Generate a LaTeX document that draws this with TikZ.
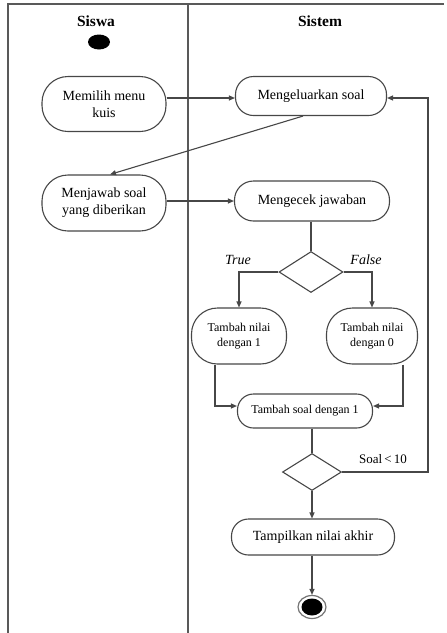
\documentclass[tikz,border=0pt]{standalone}
\usepackage{fontspec}
\setmainfont{Liberation Serif}
\usetikzlibrary{shapes.geometric,arrows.meta}
\definecolor{lncol}{gray}{0.28}
\begin{document}
\begin{tikzpicture}[x=1pt,y=-1pt,
  ln/.style={draw=lncol, line width=1.1pt},
  arr/.style={ln, -{Triangle[length=6pt,width=5pt]}},
  act/.style={draw=lncol, line width=1.1pt, align=center, inner sep=0pt, font=\fontsize{14}{17}\selectfont},
  sact/.style={act, font=\fontsize{12}{15}\selectfont},
  dec/.style={diamond, draw=lncol, line width=1.1pt, inner sep=0pt, aspect=1.5},
  lane/.style={draw=black!65, line width=1.2pt},
  title/.style={font=\fontsize{15.5}{18}\selectfont\bfseries},
  lbl/.style={font=\fontsize{14}{17}\selectfont\itshape}]
\useasboundingbox (0,0) rectangle (447,633);
% frame
\draw[lane] (8,633) -- (8,4) -- (444,4);
\draw[lane] (188,4) -- (188,633);
\node[title] (tsiswa) at (96,21) {Siswa};
\node[title] (tsistem) at (320,21) {Sistem};
% start
\node[ellipse, fill=black, minimum width=22pt, minimum height=15pt, inner sep=0pt] (start) at (99,42) {};
% activities
\node[act, minimum width=124pt, minimum height=55pt, rounded corners=26pt] (memilih) at (104,104) {Memilih menu\\kuis};
\node[act, minimum width=151pt, minimum height=39pt, rounded corners=18pt] (keluar) at (311,96) {Mengeluarkan soal};
\node[act, minimum width=124pt, minimum height=56pt, rounded corners=26pt] (jawab) at (104,203) {Menjawab soal\\yang diberikan};
\node[act, minimum width=155pt, minimum height=40pt, rounded corners=19pt] (cek) at (312,201) {Mengecek jawaban};
\node[dec, minimum width=64pt, minimum height=41pt] (d1) at (311,272) {};
\node[sact, minimum width=95pt, minimum height=56pt, rounded corners=26pt] (t1) at (239,336) {Tambah nilai\\dengan 1};
\node[sact, minimum width=91pt, minimum height=56pt, rounded corners=26pt] (t0) at (372,336) {Tambah nilai\\dengan 0};
\node[sact, minimum width=135pt, minimum height=34pt, rounded corners=16pt] (soal) at (305,411) {Tambah soal dengan 1};
\node[dec, minimum width=59pt, minimum height=37pt] (d2) at (312,472) {};
\node[act, minimum width=163pt, minimum height=36pt, rounded corners=17pt] (tampil) at (313,537) {Tampilkan nilai akhir};
% end
\node[ellipse, draw=black!55, line width=1.2pt, fill=white, minimum width=28pt, minimum height=23pt, inner sep=0pt] (end) at (312,607) {};
\node[ellipse, fill=black, minimum width=21pt, minimum height=17pt, inner sep=0pt] (endin) at (end.center) {};
% labels
\node[lbl] (ltrue) at (238,260) {True};
\node[lbl] (lfalse) at (366,260) {False};
\node[font=\fontsize{13}{15}\selectfont] (lsoal) at (383,459) {Soal\,<\,10};
% coordinates
\coordinate (c1) at (215,406);
\coordinate (c0) at (403,406);
\coordinate (lp1) at (428,472);
\coordinate (lp2) at (428,98);
% connectors
\draw[arr] (memilih.east |- 0,98) -- (keluar.west |- 0,98);
\draw[arr] ([xshift=-8pt]keluar.south) -- ([xshift=6pt]jawab.north);
\draw[arr] (jawab.east |- 0,201) -- (cek.west);
\draw[ln] (cek.south -| d1) -- (d1.north);
\draw[arr] (d1.west) -| (t1.north);
\draw[arr] (d1.east) -| (t0.north);
\draw[arr] (t1.south -| c1) -- (c1) -- (soal.west |- c1);
\draw[arr] (t0.south -| c0) -- (c0) -- (soal.east |- c0);
\draw[ln] (soal.south -| d2) -- (d2.north);
\draw[arr] (d2.east) -- (lp1) -- (lp2) -- (keluar.east |- lp2);
\draw[arr] (d2.south) -- (tampil.north -| d2);
\draw[arr] (tampil.south -| end) -- (end.north);
\end{tikzpicture}
\end{document}
